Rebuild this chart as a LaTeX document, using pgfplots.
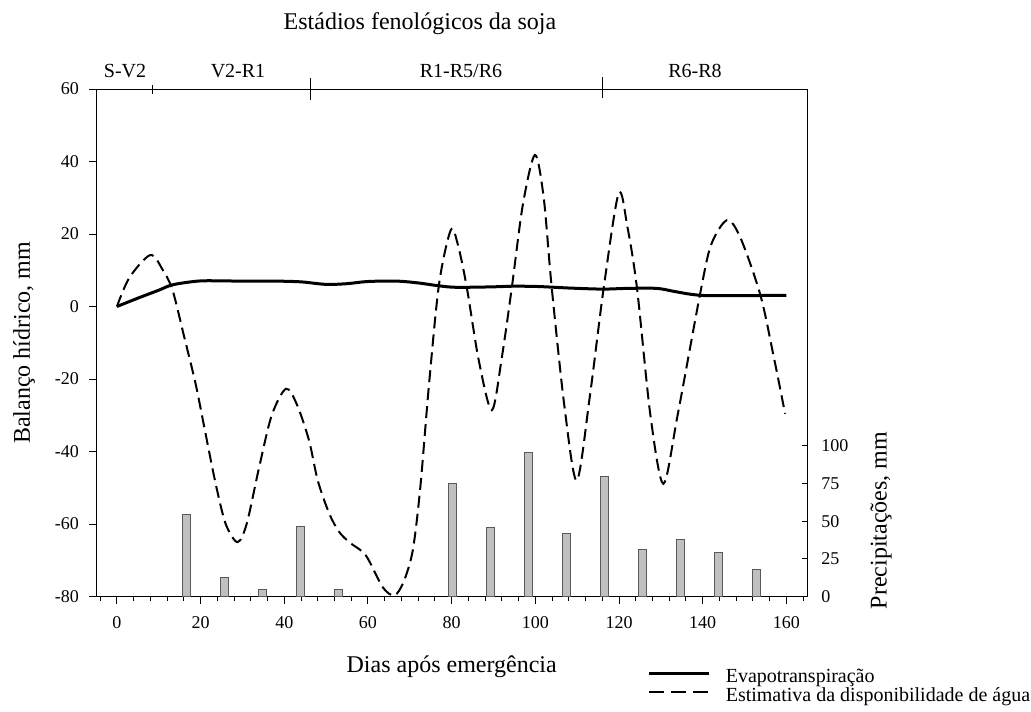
\documentclass[border=0pt]{standalone}
\usepackage{fontspec}
\setmainfont{Liberation Serif}
\usepackage{pgfplots}
\pgfplotsset{compat=1.18}
\usepackage{pgfplotstable}

\pgfplotstableread{
x y
0 0
5 2.3
10 4.5
13 5.9
17 6.7
21 7.1
30 7.0
38 7.0
44 6.8
50 6.1
55 6.3
60 6.9
67 7.0
72 6.5
77 5.7
81 5.3
89 5.4
95 5.6
101 5.5
108 5.1
116 4.8
122 5.0
129 5.0
133 4.2
137 3.4
141 3.0
150 3.0
160 3.1
}\etdata

\pgfplotstableread{
x y
0 0
3 8
8 14.2
11 10
13.3 4.5
16 -8
18.8 -21.3
21 -34
23.6 -48.9
26 -60
28.8 -65
31 -60
34 -44.3
37 -30
40.4 -22.7
43 -27
45.9 -36.9
48 -48
50.7 -57
53 -62
55.5 -65
59.5 -68.7
63.5 -77.4
66.3 -79.7
68.5 -76
70.7 -67.3
72.5 -50
74.6 -21.3
77 6.3
79.8 21.1
81.5 17
83.6 5.4
86.5 -15
89.6 -28.6
92 -14
94.4 5.4
97 28
99.9 41.8
102 30
103.9 5.4
107 -28
109.9 -48
113 -25
116.3 4.8
119.9 31.2
122 22
124.3 5
127.5 -30
130.6 -48.9
134 -30
139.4 3.6
142 17
145.8 23.8
149 19
153.8 3.1
157 -14
159.7 -29.6
}\wadata

\pgfplotstableread{
x y
16.6 54.6
25.6 12.4
34.7 4.4
43.9 46.5
52.9 4.4
80.2 74.8
89.3 45.8
98.3 95.6
107.5 41.6
116.6 79.4
125.6 31.2
134.7 37.8
143.8 29.4
152.8 17.7
}\raindata

\begin{document}
\begin{tikzpicture}
\begin{axis}[
  name=main,
  at={(0pt,0pt)}, anchor=south west,
  scale only axis, width=355.65pt, height=253.75pt,
  xmin=-5, xmax=165, ymin=-80, ymax=60,
  xtick={0,20,...,160}, ytick={-80,-60,...,60},
  minor xtick={-4,0,...,164},
  xtick pos=bottom, ytick pos=left,
  tick align=outside,
  major tick length=3.5pt, minor tick length=2pt,
  axis line style={line width=0.5pt},
  every tick/.style={black, line width=0.5pt},
  tick label style={font=\fontsize{9}{10}\selectfont},
  xticklabel style={yshift=-3pt},
  yticklabel style={xshift=-1.5pt},
  /pgf/number format/assume math mode=true,
  legend style={at={(axis description cs:0.776,-0.142)}, anchor=north west,
    draw=none, fill=none, inner sep=0pt, outer sep=0pt, row sep=0.8pt,
    font=\fontsize{10}{12}\selectfont,
    nodes={inner sep=0pt, text height=7pt, text depth=1.5pt},
    /tikz/column sep=7.5pt},
  legend cell align=left,
]
\addplot[black, line width=1.5pt, smooth,
  legend image code/.code={\draw[black, line width=1.4pt] (0pt,1.8pt) -- (30pt,1.8pt);}] table {\etdata};
\addplot[black, line width=1pt, dash pattern=on 6pt off 3pt, smooth,
  legend image code/.code={\draw[black, line width=1pt, dash pattern=on 7.5pt off 3.5pt] (0pt,2pt) -- (30pt,2pt);}] table {\wadata};
\legend{Evapotranspiração, Estimativa da disponibilidade de água}
\end{axis}
\begin{axis}[
  at={(0pt,0pt)}, anchor=south west,
  scale only axis, width=355.65pt, height=253.75pt,
  xmin=-5, xmax=165, ymin=0, ymax=336.8,
  axis x line=none, axis y line*=right,
  ytick={0,25,50,75,100},
  tick align=inside, major tick length=2.5pt,
  axis line style={line width=0.5pt},
  every tick/.style={black, line width=0.5pt},
  tick label style={font=\fontsize{9}{10}\selectfont},
  yticklabel style={xshift=3.5pt},
  /pgf/number format/assume math mode=true,
]
\addplot[ybar, bar width=4pt, bar shift=0pt, fill={rgb,255:red,192;green,192;blue,192}, draw=black!65, line width=0.5pt] table {\raindata};
\end{axis}
% titles and labels
\node[font=\fontsize{12}{14}\selectfont, anchor=base] at (162pt,283.25pt) {Estádios fenológicos da soja};
\begin{scope}[font=\fontsize{10}{12}\selectfont]
\node[anchor=base] at (14.5pt,259.25pt) {S-V2};
\node[anchor=base] at (71pt,259.25pt) {V2-R1};
\node[anchor=base] at (182.5pt,259.25pt) {R1-R5/R6};
\node[anchor=base] at (299.5pt,259.25pt) {R6-R8};
\end{scope}
\draw[line width=0.5pt] (28.25pt,255.75pt) -- (28.25pt,251.25pt);
\draw[line width=0.5pt] (107pt,259.25pt) -- (107pt,248.25pt);
\draw[line width=0.5pt] (253pt,259.75pt) -- (253pt,249.25pt);
\node[font=\fontsize{12}{14}\selectfont, anchor=base] at (177.85pt,-38.1pt) {Dias após emergência};
\node[font=\fontsize{12}{14}\selectfont, rotate=90, anchor=center] at (-36pt,126.9pt) {Balanço hídrico, mm};
\node[font=\fontsize{12}{14}\selectfont, rotate=90, anchor=center] at (392.5pt,38pt) {Precipitações, mm};
\pgfresetboundingbox
\useasboundingbox (-48pt,-57.25pt) rectangle (467.5pt,298.25pt);
\end{tikzpicture}
\end{document}
